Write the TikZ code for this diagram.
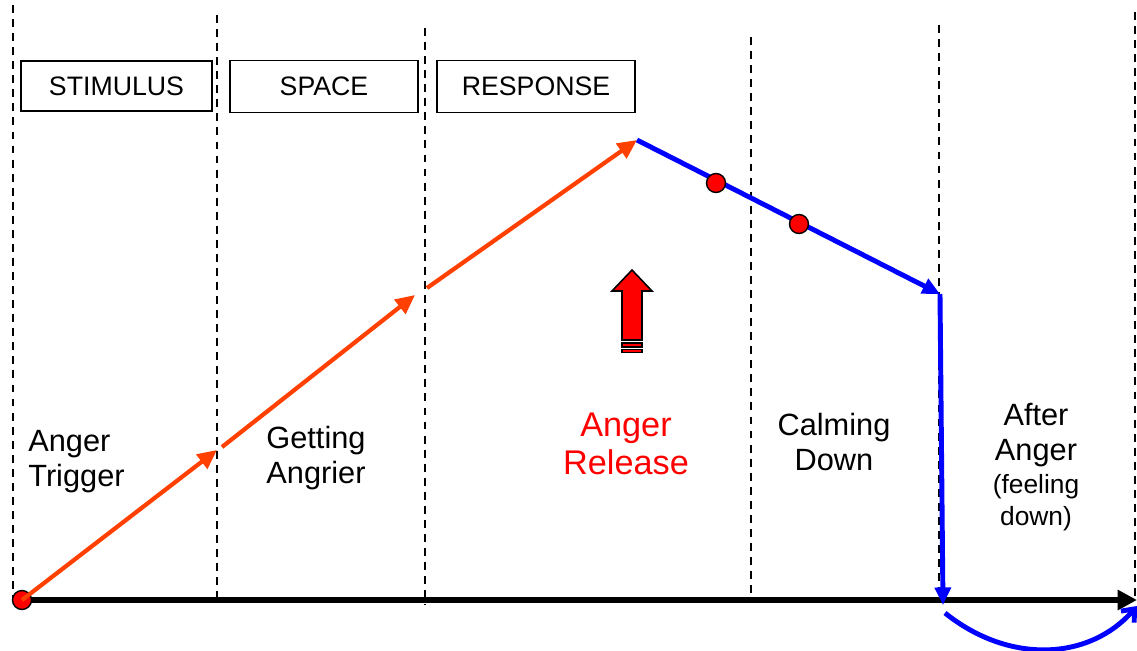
\documentclass[tikz,border=0pt]{standalone}
\usepackage{fontspec}
\setmainfont{Liberation Sans}
\usepackage{xcolor}
\usetikzlibrary{arrows.meta}

\definecolor{angerorange}{RGB}{255,64,0}

\tikzset{
  divider/.style={line width=0.8pt, dash pattern=on 4.5pt off 3.5pt},
  phasebox/.style={draw, line width=0.8pt, inner sep=0pt, font=\fontsize{15.2}{17}\selectfont},
  phasetext/.style={inner sep=0pt, font=\fontsize{17.5}{20}\selectfont},
  dot/.style={circle, draw, fill=red, line width=0.8pt, minimum size=0.38cm, inner sep=0pt},
  rise/.style={angerorange, line width=2.4pt, -{Triangle[length=11pt,width=10pt]}},
  calm/.style={blue, line width=2.8pt, -{Triangle[length=10pt,width=9pt]}}
}

\begin{document}
\begin{tikzpicture}[x=0.02cm, y=-0.02cm]
  \useasboundingbox (0,0) rectangle (1137,650);
  % phase dividers
  \foreach \x/\t/\b in {13/5/600, 217/15/598, 425/28/605, 751/37/600, 939/25/598, 1135/12/598}
  {
    \draw[divider] (\x,\t) -- (\x,\b);
  }
  % boxes on top
  \node[phasebox, minimum width=3.82cm, minimum height=1cm] (stimulus) at (116.5,86) {STIMULUS};
  \node[phasebox, minimum width=3.76cm, minimum height=1.04cm] (space) at (324,86.5) {SPACE};
  \node[phasebox, minimum width=3.96cm, minimum height=1.04cm] (response) at (536,86.5) {RESPONSE};

  % points of the curve
  \coordinate (start) at (22,600);
  \coordinate (rise1) at (217,450);
  \coordinate (rise2a) at (222,447);
  \coordinate (rise2) at (415,295);
  \coordinate (rise3a) at (427,288);
  \coordinate (peak) at (637,140);
  \coordinate (cool) at (940,294);
  \coordinate (low) at (943,605);
  \coordinate (arcstart) at (945,613);
  \coordinate (arcend) at (1137,606);
  \coordinate (axisend) at (1137,600);

  % time axis
  \draw[line width=3.8pt, -{Triangle[length=11pt,width=11pt]}] (start) -- (axisend);
  \node[dot] (trig) at (start) {};

  % getting angry
  \draw[rise] (trig.center) -- (rise1);
  \draw[rise] (rise2a) -- (rise2);
  \draw[rise] (rise3a) -- (peak);

  % calming down
  \draw[calm] (peak) -- (cool);
  \draw[calm] (cool) -- (low);
  \draw[blue, line width=2.8pt, -{Straight Barb[length=6pt,width=10pt]}]
    (arcstart) .. controls (1010,665) and (1090,660) .. (arcend);
  \node[dot] (calm1) at (716,183) {};
  \node[dot] (calm2) at (799,224) {};

  % release arrow
  \draw[fill=red, line width=0.9pt] (632,270) -- (652,291) -- (642,291) -- (642,340)
    -- (622,340) -- (622,291) -- (612,291) -- cycle;
  \draw[fill=red, line width=0.7pt] (622,343) rectangle (642,347);
  \draw[fill=red, line width=0.7pt] (622,349.5) rectangle (642,352.5);

  % phase names
  \node[phasetext, anchor=west, align=left] (trigger) at (28,462) {Anger\\Trigger};
  \node[phasetext, align=center] (angrier) at (316,458) {Getting\\Angrier};
  \node[phasetext, align=center, text=red, font=\fontsize{19.5}{21.6}\selectfont] (release) at (626,443.5) {Anger\\Release};
  \node[phasetext, align=center] (calming) at (834,442) {Calming\\Down};
  \node[phasetext, align=center] (after) at (1036,467)
    {After\\Anger\\[-1pt]{\fontsize{15}{16.5}\selectfont (feeling}\\[-2pt]{\fontsize{15}{16.5}\selectfont down)}};
\end{tikzpicture}
\end{document}
